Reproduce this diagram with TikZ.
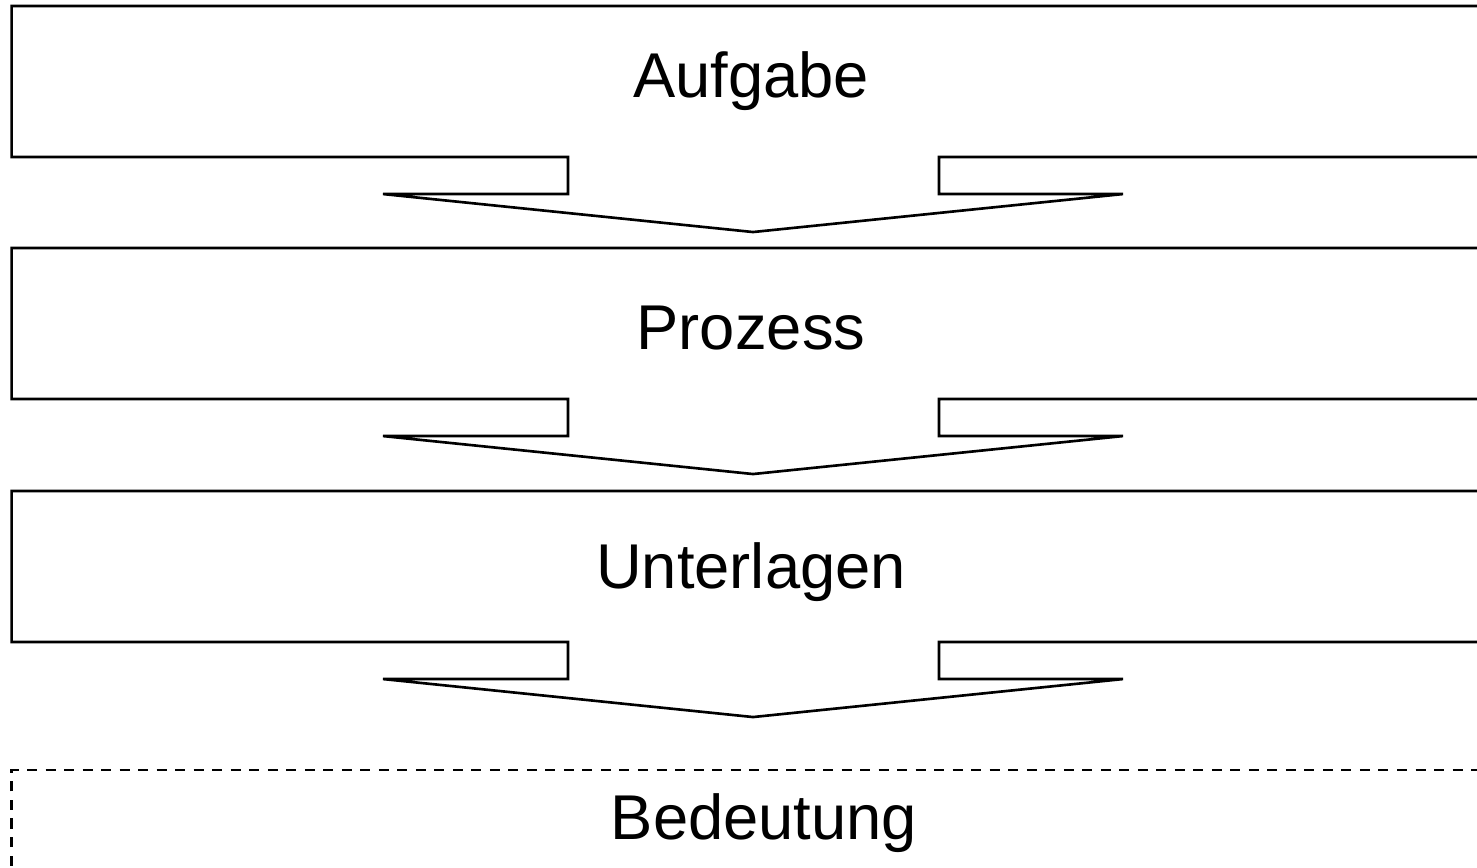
\documentclass[tikz,border=0pt]{standalone}
\usepackage{fontspec}
\setmainfont{Liberation Sans}
\usetikzlibrary{calc}

\begin{document}
\begin{tikzpicture}[x=0.01cm, y=-0.01cm, every node/.style={font=\fontsize{18}{21}\selectfont}]
\tikzset{
  stufe/.style={rectangle, minimum width=14.82cm, minimum height=1.51cm, inner sep=0pt, outer sep=0pt},
  beschriftung/.style={anchor=base, inner sep=0pt},
  umriss/.style={line width=0.75pt, line join=miter},
  offen/.style={line width=0.75pt, dash pattern=on 0.1cm off 0.085cm}
}
\useasboundingbox (0,0) rectangle (1477,867);
\foreach \name/\txt/\y/\b in {aufgabe/Aufgabe/81.5/98, prozess/Prozess/323.5/349, unterlagen/Unterlagen/566.5/588} {
  \node[stufe] (\name) at (753,\y) {};
  \node[beschriftung] (\name-text) at (751,\b) {\txt};
  \draw[umriss] ($(\name.south)+(-185,0)$) -- (\name.south west) -- (\name.north west)
    -- (\name.north east) -- (\name.south east) -- ($(\name.south)+(186,0)$)
    -- ++(0,37) -- ++(184,0) -- ($(\name.south)+(0,75)$)
    -- ($(\name.south)+(-370,37)$) -- ($(\name.south)+(-185,37)$) -- cycle;
}
\node[stufe] (bedeutung) at (753,845.5) {};
\node[beschriftung] (bedeutung-text) at (764,839) {Bedeutung};
\draw[offen] (bedeutung.south west) -- (bedeutung.north west) -- (bedeutung.north east) -- (bedeutung.south east);
\end{tikzpicture}
\end{document}
